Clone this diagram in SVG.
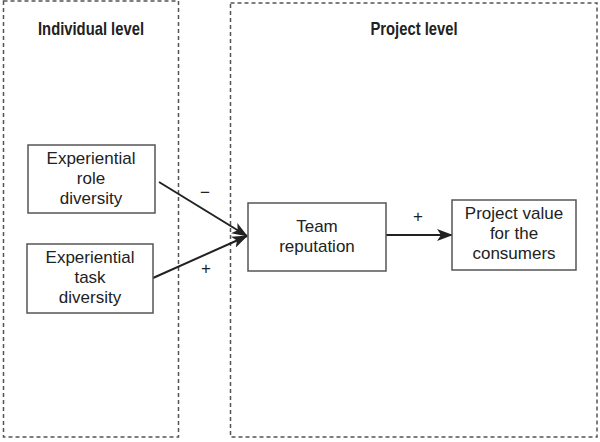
<svg xmlns="http://www.w3.org/2000/svg" width="600" height="442" viewBox="0 0 600 442">
<style>
.panel{fill:none;stroke:#555;stroke-width:1.5;stroke-dasharray:4 3}
.box{fill:#fff;stroke:#555;stroke-width:1.5}
.t{font-family:"Liberation Sans",Arial,sans-serif;font-size:17px;fill:#222;text-anchor:middle}
.h{font-family:"Liberation Sans",Arial,sans-serif;font-size:19px;font-weight:bold;fill:#222;text-anchor:middle}
.c{stroke:#222;stroke-width:2;fill:none}
</style>
<defs>
<marker id="ah" viewBox="0 0 16 12" refX="15" refY="6" markerWidth="16" markerHeight="12" markerUnits="userSpaceOnUse" orient="auto">
<path d="M0,0 L16,6 L0,12 L4,6 Z" fill="#222"/>
</marker>
</defs>
<g id="individual-level">
<rect class="panel" x="3.5" y="1" width="175" height="436"/>
<text class="h" x="91" y="35" textLength="106" lengthAdjust="spacingAndGlyphs">Individual level</text>
</g>
<g id="project-level">
<rect class="panel" x="230.5" y="3" width="366.5" height="434"/>
<text class="h" x="414" y="35" textLength="87" lengthAdjust="spacingAndGlyphs">Project level</text>
</g>
<g id="connectors">
<line class="c" x1="159" y1="182" x2="247" y2="236" marker-end="url(#ah)"/>
<line class="c" x1="153" y1="278" x2="247" y2="236" marker-end="url(#ah)"/>
<line class="c" x1="386" y1="235" x2="452" y2="235" marker-end="url(#ah)"/>
<text class="t" x="205" y="198">−</text>
<text class="t" x="206" y="274">+</text>
<text class="t" x="418" y="222">+</text>
</g>
<g id="role-diversity">
<rect class="box" x="28" y="145" width="127" height="68"/>
<text class="t" x="91" y="164">Experiential</text>
<text class="t" x="91" y="184">role</text>
<text class="t" x="91" y="204">diversity</text>
</g>
<g id="task-diversity">
<rect class="box" x="27" y="244" width="126" height="69"/>
<text class="t" x="90" y="263">Experiential</text>
<text class="t" x="90" y="283">task</text>
<text class="t" x="90" y="303">diversity</text>
</g>
<g id="team-reputation">
<rect class="box" x="248" y="203" width="138" height="68"/>
<text class="t" x="317" y="232">Team</text>
<text class="t" x="317" y="252">reputation</text>
</g>
<g id="project-value">
<rect class="box" x="452" y="200" width="124" height="70"/>
<text class="t" x="514" y="219">Project value</text>
<text class="t" x="514" y="239">for the</text>
<text class="t" x="514" y="259">consumers</text>
</g>
</svg>
